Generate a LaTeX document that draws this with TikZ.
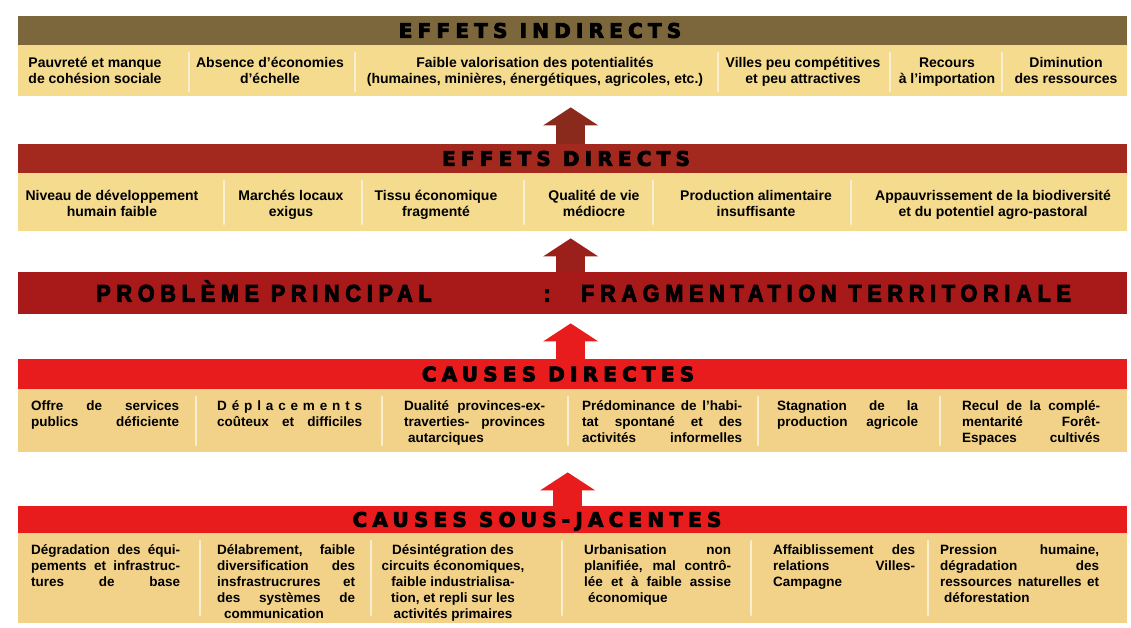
\documentclass[tikz,border=0pt]{standalone}
\usepackage{fontspec}
\setmainfont{Liberation Sans}
\newfontfamily\headfont{DejaVu Sans}[LetterSpace=26,FakeBold=4]
\newfontfamily\probfont{Liberation Sans}[FakeStretch=0.9,FakeBold=4,LetterSpace=24]
\usetikzlibrary{arrows.meta}
\definecolor{hdrA}{RGB}{124,103,60}
\definecolor{hdrB}{RGB}{163,40,30}
\definecolor{probC}{RGB}{168,26,26}
\definecolor{hdrD}{RGB}{232,28,28}
\definecolor{bodyY}{RGB}{244,219,142}
\definecolor{bodyO}{RGB}{241,210,136}
\definecolor{arrA}{RGB}{138,42,28}
\definecolor{arrB}{RGB}{155,32,28}
\definecolor{arrC}{RGB}{232,28,28}
\definecolor{sepC}{RGB}{252,243,222}
\newcommand\jline[2]{\makebox[#1][s]{#2}}
\begin{document}
\begin{tikzpicture}[x=1pt,y=-1pt,
  band/.style={draw=none, inner sep=0pt, minimum width=1109pt, anchor=north west},
  htext/.style={font=\headfont\bfseries\fontsize{20}{24}\selectfont, inner sep=0pt, anchor=base},
  probtext/.style={font=\probfont\bfseries\fontsize{24}{26}\selectfont, inner sep=0pt, anchor=base},
  ctext/.style={font=\bfseries\fontsize{14}{16.5}\selectfont, align=center, inner sep=0pt, anchor=base},
  cell/.style={font=\bfseries\fontsize{13.5}{16}\selectfont, align=left, inner sep=0pt, anchor=base west},
  sepline/.style={draw=sepC, line width=2.5pt, line cap=round, opacity=0.85},
  bigarrow/.style={line width=29pt, draw=#1, -{Triangle[width=55pt,length=18pt,line width=0pt]}}
]
\fill[white] (0,0) rectangle (1131,627);
\useasboundingbox (0,0) rectangle (1131,627);

% bands
\node[band, fill=hdrA, minimum height=29pt] (h1) at (18,16) {};
\node[band, fill=bodyY, minimum height=51pt] (b1) at (18,45) {};
\node[band, fill=hdrB, minimum height=29pt] (h2) at (18,144) {};
\node[band, fill=bodyY, minimum height=58pt] (b2) at (18,173) {};
\node[band, fill=probC, minimum height=42pt] (p) at (18,272) {};
\node[band, fill=hdrD, minimum height=30pt] (h4) at (18,359) {};
\node[band, fill=bodyO, minimum height=63pt] (b4) at (18,389) {};
\node[band, fill=hdrD, minimum height=27pt] (h5) at (18,506) {};
\node[band, fill=bodyO, minimum height=90pt] (b5) at (18,533) {};

% arrows
\draw[bigarrow=arrA, shorten >=11pt] ([xshift=-2pt]h2.north) -- ([xshift=-2pt]b1.south);
\draw[bigarrow=arrB, shorten >=7pt] ([xshift=-2pt]p.north) -- ([xshift=-2pt]b2.south);
\draw[bigarrow=arrC, shorten >=9pt] ([xshift=-2pt]h4.north) -- ([xshift=-2pt]p.south);
\draw[bigarrow=arrC, shorten >=20pt] ([xshift=-5pt]h5.north) -- ([xshift=-5pt]b4.south);

% header texts
\node[htext] (t1) at (540,37.8) {EFFETS INDIRECTS};
\node[htext] (t2) at (566,165.8) {EFFETS DIRECTS};
\node[htext] (t4) at (558,381.3) {CAUSES DIRECTES};
\node[htext] (t5) at (537,526.8) {CAUSES SOUS-JACENTES};
\node[probtext] (pl) at (264,301.6) {PROBLÈME PRINCIPAL};
\node[probtext] (pc) at (547,301.6) {:};
\node[probtext] (pr) at (826,301.6) {FRAGMENTATION TERRITORIALE};

% separators
\foreach \x in {189,355,718,890,1002} \draw[sepline] (\x,53) -- (\x,91);
\foreach \x in {224,362,524,653,851} \draw[sepline] (\x,181) -- (\x,224);
\foreach \x in {196,382,568,758,940} \draw[sepline] (\x,397) -- (\x,445);
\foreach \x in {200,371,562,751,928} \draw[sepline] (\x,541) -- (\x,615);

% effets indirects (anchor = baseline of last line)
\node[ctext] (e1) at (95,83.5) {Pauvreté et manque\\de cohésion sociale};
\node[ctext] (e2) at (270,83.5) {Absence d'économies\\d'échelle};
\node[ctext] (e3) at (535,83.5) {Faible valorisation des potentialités\\(humaines, minières, énergétiques, agricoles, etc.)};
\node[ctext] (e4) at (803,83.5) {Villes peu compétitives\\et peu attractives};
\node[ctext] (e5) at (947,83.5) {Recours\\à l'importation};
\node[ctext] (e6) at (1066,83.5) {Diminution\\des ressources};

% effets directs
\node[ctext] (d1) at (112,216.5) {Niveau de développement\\humain faible};
\node[ctext] (d2) at (291,216.5) {Marchés locaux\\exigus};
\node[ctext] (d3) at (436,216.5) {Tissu économique\\fragmenté};
\node[ctext] (d4) at (594,216.5) {Qualité de vie\\médiocre};
\node[ctext] (d5) at (756,216.5) {Production alimentaire\\insuffisante};
\node[ctext] (d6) at (993,216.5) {Appauvrissement de la biodiversité\\et du potentiel agro-pastoral};

% causes directes
\node[cell] (c1) at (31,426) {\jline{148pt}{Offre de services}\\\jline{148pt}{publics déficiente}};
\node[cell] (c2) at (217,426) {\jline{145pt}{D\hfill é\hfill p\hfill l\hfill a\hfill c\hfill e\hfill m\hfill e\hfill n\hfill t\hfill s}\\\jline{145pt}{coûteux et difficiles}};
\node[cell] (c3) at (404,442) {\jline{141pt}{Dualité provinces-ex-}\\\jline{141pt}{traverties- provinces}\\\hspace*{4pt}autarciques};
\node[cell] (c4) at (582,442) {\jline{160pt}{Prédominance de l'habi-}\\\jline{160pt}{tat spontané et des}\\\jline{160pt}{activités informelles}};
\node[cell] (c5) at (777,426) {\jline{141pt}{Stagnation de la}\\\jline{141pt}{production agricole}};
\node[cell] (c6) at (962,442) {\jline{138pt}{Recul de la complé-}\\\jline{138pt}{mentarité Forêt-}\\\jline{138pt}{Espaces cultivés}};

% causes sous-jacentes
\node[cell] (s1) at (31,586) {\jline{149pt}{Dégradation des équi-}\\\jline{149pt}{pements et infrastruc-}\\\jline{149pt}{tures de base}};
\node[cell] (s2) at (217,618) {\jline{138pt}{Délabrement, faible}\\\jline{138pt}{diversification des}\\\jline{138pt}{insfrastrucrures et}\\\jline{138pt}{des systèmes de}\\\hspace*{7pt}communication};
\node[ctext, font=\bfseries\fontsize{13.5}{16}\selectfont] (s3) at (453,618) {Désintégration des\\circuits économiques,\\faible industrialisa-\\tion, et repli sur les\\activités primaires};
\node[cell] (s4) at (584,602) {\jline{147pt}{Urbanisation non}\\\jline{147pt}{planifiée, mal contrô-}\\\jline{147pt}{lée et à faible assise}\\\hspace*{4pt}économique};
\node[cell] (s5) at (773,586) {\jline{142pt}{Affaiblissement des}\\\jline{142pt}{relations Villes-}\\Campagne};
\node[cell] (s6) at (940,602) {\jline{159pt}{Pression humaine,}\\\jline{159pt}{dégradation des}\\\jline{159pt}{ressources naturelles et}\\\hspace*{4pt}déforestation};
\end{tikzpicture}
\end{document}
